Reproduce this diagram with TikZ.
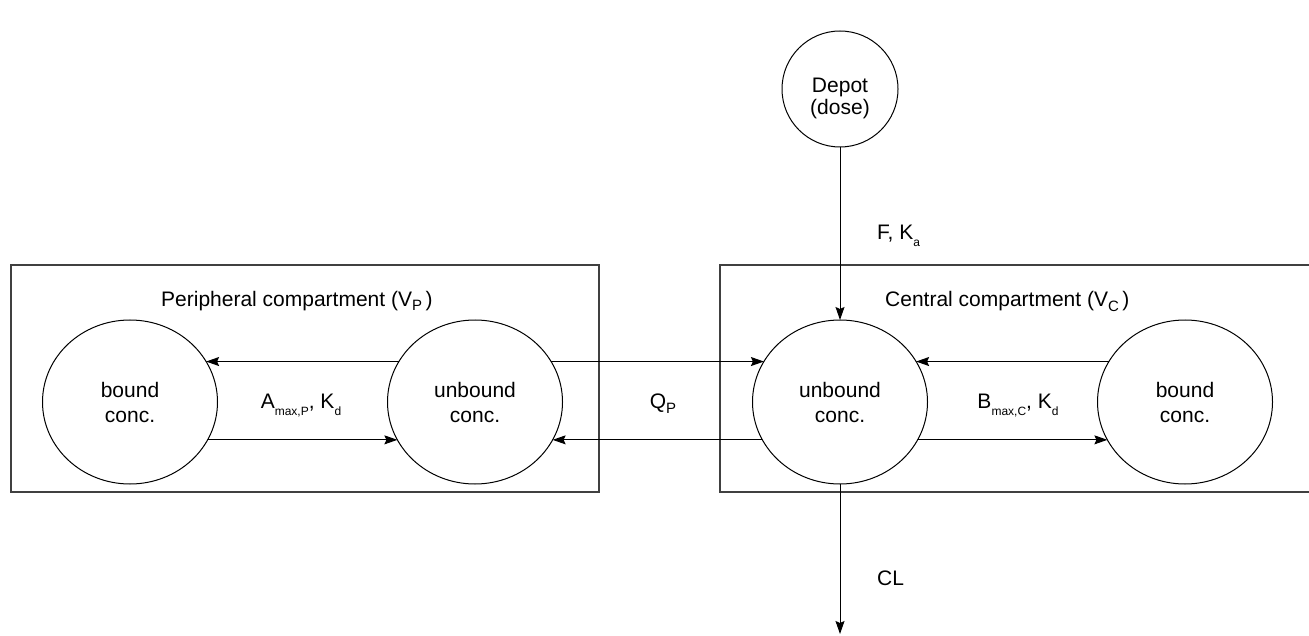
\documentclass[tikz,border=0pt]{standalone}
\usepackage{fontspec}
\setmainfont{Liberation Sans}
\usetikzlibrary{shapes.geometric,arrows.meta}
% subscripts: a larger one for volumes and flow, a smaller one for rate constants
\newcommand\bsub[1]{\raisebox{-5pt}{\fontsize{15}{15}\selectfont #1}}
\newcommand\ssub[1]{\raisebox{-7pt}{\fontsize{12}{12}\selectfont #1}}
\begin{document}
\begin{tikzpicture}[x=1pt,y=-1pt,
  every node/.style={font=\fontsize{21}{25}\selectfont},
  pool/.style={ellipse, draw, fill=white, line width=1pt,
    minimum width=175pt, minimum height=164pt,
    inner sep=0pt, outer sep=0pt, align=center},
  compbox/.style={draw=black!75, line width=1.3pt},
  flow/.style={-{Stealth[length=13pt,width=9pt,inset=2pt]}, line width=1pt},
  lbl/.style={inner sep=0pt}]
\useasboundingbox (0,0) rectangle (1309,636);
\clip (0,0) rectangle (1309,636);

% compartments
\draw[compbox] (11,265) rectangle (599,492);
\draw[compbox] (720,265) rectangle (1320,492);
\node[lbl, anchor=base west] (ptitle) at (161,306) {Peripheral compartment (V\bsub{P}\,)};
\node[lbl, anchor=base west] (ctitle) at (885,307) {Central compartment (V\bsub{C}\,)};

% pools
\node[pool] (lb) at (130,402) {bound\\conc.};
\node[pool] (lu) at (475,402) {unbound\\conc.};
\node[pool] (cu) at (840,402) {unbound\\conc.};
\node[pool] (rb) at (1185,402) {bound\\conc.};
% dose text sits a little below the centre of the depot circle
\node[pool, minimum width=116pt, minimum height=116pt] (depot) at (840,89)
  {\raisebox{-15pt}[0pt][0pt]{\begin{tabular}{@{}c@{}}Depot\\[-3pt](dose)\end{tabular}}};
\coordinate (sink) at (840,634);

% exchanges
\draw[flow] (lu.152) -- (lb.28);
\draw[flow] (lb.-26) -- (lu.206);
\draw[flow] (lu.28) -- (cu.152);
\draw[flow] (cu.206) -- (lu.-26);
\draw[flow] (rb.152) -- (cu.28);
\draw[flow] (cu.-26) -- (rb.206);
\draw[flow] (depot.south) -- (cu.north);
\draw[flow] (cu.south) -- (sink);

% rate labels
\node[lbl, anchor=base] (amax) at (301,408) {A\ssub{max,P}, K\ssub{d}};
\node[lbl, anchor=base] (qp) at (663,408) {Q\bsub{P}};
\node[lbl, anchor=base] (bmax) at (1018,408) {B\ssub{max,C}, K\ssub{d}};
\node[lbl, anchor=base west] (fka) at (877,240) {F, K\ssub{a}};
\node[lbl, anchor=base west] (cl) at (877,585) {CL};
\end{tikzpicture}
\end{document}
